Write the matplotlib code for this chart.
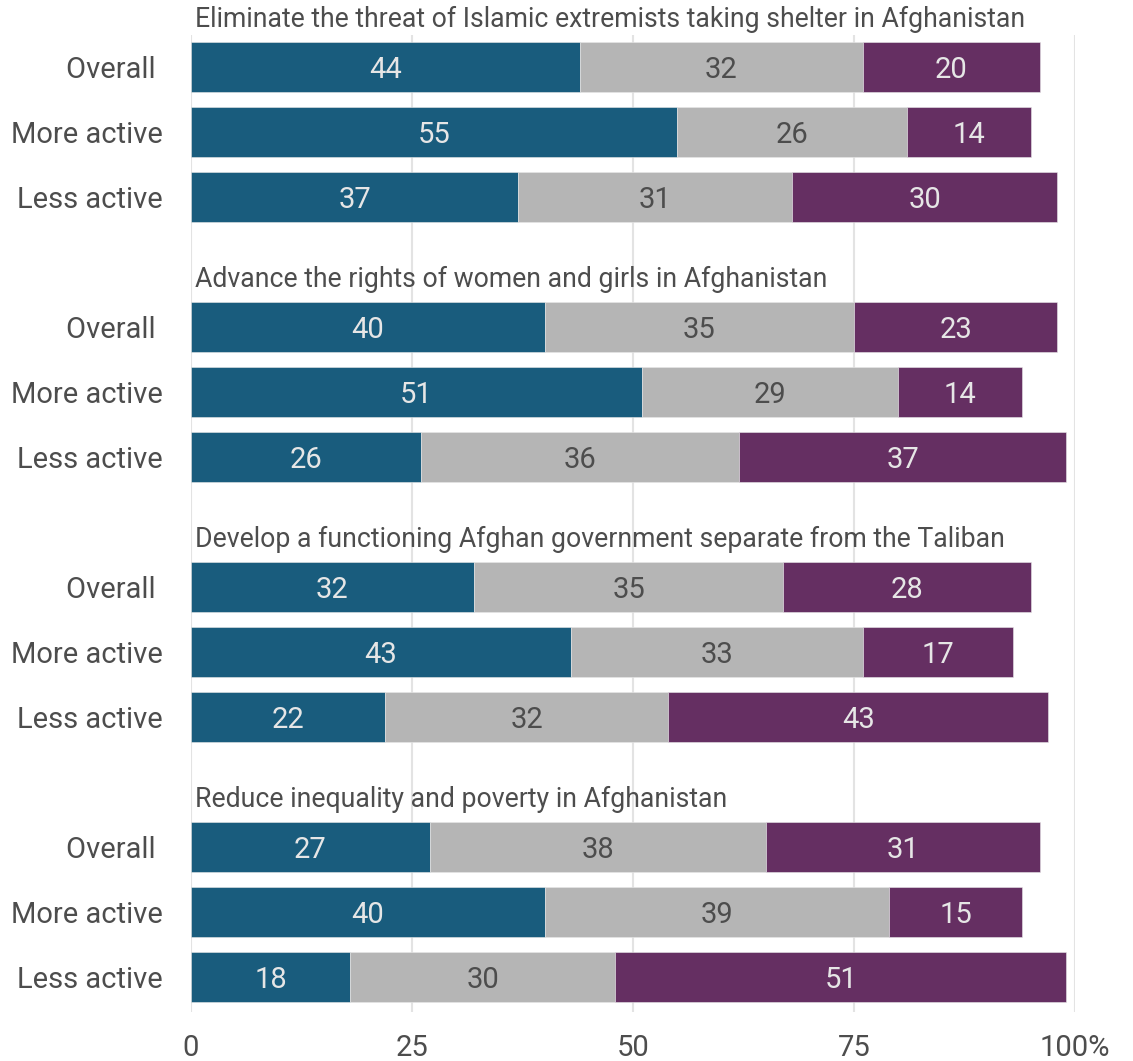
import matplotlib.pyplot as plt
import numpy as np

plt.rcParams['font.family'] = ['Roboto', 'DejaVu Sans']

# Data
titles = [
    "Eliminate the threat of Islamic extremists taking shelter in Afghanistan",
    "Advance the rights of women and girls in Afghanistan",
    "Develop a functioning Afghan government separate from the Taliban",
    "Reduce inequality and poverty in Afghanistan",
]
groups = ["Overall ", "More active", "Less active"]
blue_vals = [[44, 55, 37], [40, 51, 26], [32, 43, 22], [27, 40, 18]]
gray_vals = [[32, 26, 31], [35, 29, 36], [35, 33, 32], [38, 39, 30]]
purple_vals = [[20, 14, 30], [23, 14, 37], [28, 17, 43], [31, 15, 51]]
x_ticks = [0, 25, 50, 75, 100]
x_ticklabels = ["0", "25", "50", "75", "100%"]

colors = ["#195c7d", "#b5b5b5", "#652f62"]
text_colors = ["#e6e6e6", "#4d4d4d", "#e6e6e6"]
label_color = "#4d4d4d"

fig = plt.figure(figsize=(11.33, 10.61), dpi=100)
ax = fig.add_axes([191 / 1133, 49 / 1061, 884 / 1133, 977 / 1061])

ypos, ylabels = [], []
for g, title in enumerate(titles):
    rows = [4 * g + 1 + r for r in range(3)]
    ypos += rows
    ylabels += groups
    for r, y in enumerate(rows):
        left = 0
        for k, series in enumerate([blue_vals, gray_vals, purple_vals]):
            v = series[g][r]
            ax.barh(y, v, left=left, height=0.77, color=colors[k],
                    edgecolor="#e8e8e8", linewidth=0.4, zorder=2)
            ax.text(left + v / 2, y, str(v), ha="center", va="center_baseline",
                    fontsize=21, color=text_colors[k], zorder=3)
            left += v
    ax.text(0.5, 4 * g + 0.27, title, ha="left", va="center",
            fontsize=19.2, color=label_color, clip_on=False)

ax.set_yticks(ypos)
ax.set_yticklabels(ylabels, fontsize=21, color=label_color)
ax.set_ylim(15.54, 0.51)
ax.set_xlim(0, 100)
ax.set_xticks(x_ticks)
ax.set_xticklabels(x_ticklabels, fontsize=21, color=label_color)
ax.tick_params(axis="both", length=0)
ax.tick_params(axis="x", pad=16)
ax.tick_params(axis="y", pad=20)
ax.grid(axis="x", color="#e3e3e3", linewidth=1.5, zorder=0)
for s in ax.spines.values():
    s.set_visible(False)

fig.savefig("out.png", dpi=100)
